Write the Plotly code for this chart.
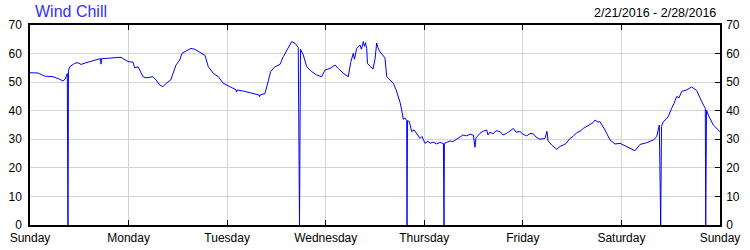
import plotly.graph_objects as go

# Hours since Sunday 2/21/2016 00:00
hours = [0, 1.95, 3.58, 5.6, 7.23, 8.03, 8.52, 9.08, 9.25, 9.37, 9.67, 10.88, 11.69, 12.42, 13.63, 14.85,
         16.56, 17.17, 17.29, 17.41, 19.72, 22.16, 23.86, 25.08, 25.49, 26.3, 27.51, 28.24, 29.95, 30.68,
         31.58, 32.38, 33.11, 34.26, 34.82, 35.55, 36.45, 37.01, 37.98, 39.2, 40.1, 41.32, 42.6, 43.41,
         44.63, 45.85, 47.06, 48.7, 50.16, 50.28, 50.4, 51.93, 53.57, 54.78, 55.76, 55.88, 56.0, 57.22,
         57.78, 58.6, 59.65, 60.87, 61.67, 62.65, 63.72, 64.52, 65.32, 65.62, 65.86, 66.54, 67.37, 68.59,
         69.8, 71.02, 71.83, 73.04, 74.26, 75.06, 76.28, 77.5, 78.08, 78.72, 79.0, 79.54, 80.35, 80.7,
         81.15, 81.44, 81.68, 81.98, 82.17, 82.78, 83.51, 84.0, 84.41, 84.73, 85.22, 86.43, 86.85, 87.16,
         88.46, 89.1, 89.67, 90.09, 90.5, 90.89, 91.3, 91.72, 91.79, 91.91, 92.35, 92.93, 93.5, 94.14,
         94.96, 95.44, 96.17, 96.9, 97.39, 98.12, 99.0, 99.81, 100.66, 100.8, 100.9, 101.45, 102.26,
         103.06, 103.72, 104.7, 105.43, 106.33, 107.13, 107.94, 108.35, 108.59, 109.57, 110.3, 111.2,
         111.5, 112.0, 112.8, 113.46, 114.43, 115.16, 116.07, 116.87, 117.68, 118.33, 119.3, 120.03,
         120.93, 121.74, 122.55, 123.2, 124.17, 125.39, 125.87, 126.12, 127.02, 128.24, 129.04, 129.85,
         130.5, 131.48, 132.21, 133.11, 133.91, 134.72, 135.62, 136.35, 137.08, 137.57, 138.3, 138.78,
         140.0, 141.22, 142.43, 143.65, 144.87, 146.09, 147.3, 148.52, 150.15, 151.76, 152.59, 153.22,
         153.56, 153.76, 154.2, 154.85, 155.41, 156.24, 156.8, 157.45, 158.02, 158.67, 159.89, 161.1,
         162.32, 163.54, 164.42, 164.52, 164.71, 165.15, 166.37, 167.59, 168]

wind_chill = [53.3, 53.2, 52.1, 51.9, 51.0, 50.4, 51.0, 53.0, 0, 54.0, 55.4, 56.6, 56.8, 56.2, 56.8, 57.4,
              58.0, 58.2, 56.3, 58.2, 58.5, 58.7, 57.2, 57.0, 55.0, 55.4, 51.9, 51.5, 51.9, 50.8,
              49.0, 48.4, 49.5, 50.8, 53.0, 56.0, 57.75, 60.1, 60.9, 61.8, 61.5, 60.4, 59.4, 55.4,
              53.1, 51.9, 49.6, 48.4, 47.3, 46.5, 47.25, 46.9, 46.3, 45.7, 45.5, 44.9, 45.5, 46.0,
              49.6, 53.7, 55.4, 56.2, 58.9, 61.6, 64.2, 63.6, 62.1, 0, 61.5, 59.5, 55.4, 53.7,
              52.5, 51.9, 54.25, 54.8, 56.0, 54.8, 53.1, 51.9, 56.9, 60.1, 58.0, 61.8, 63.0, 61.5,
              64.2, 62.5, 63.8, 61.8, 56.5, 55.6, 54.6, 58.0, 63.7, 62.0, 60.6, 58.5, 51.9, 51.5,
              49.6, 47.5, 44.9, 43.0, 40.25, 37.0, 37.5, 36.5, 0, 36.5, 36.2, 32.7, 33.3, 32.1,
              30.3, 31.0, 28.6, 29.3, 28.6, 29.0, 28.4, 28.9, 28.5, 0, 28.6, 28.9, 29.4,
              29.25, 29.8, 30.7, 31.5, 31.2, 31.8, 31.5, 27.2, 30.5, 32.1, 32.8, 33.25,
              31.5, 32.5, 31.9, 33.0, 32.7, 31.5, 32.1, 33.0, 33.8, 32.5, 32.7, 31.8,
              31.2, 32.0, 31.9, 30.8, 30.0, 30.3, 32.8, 29.5, 28.0, 26.5, 27.5, 28.0,
              28.5, 30.3, 31.0, 32.3, 32.8, 33.8, 34.5, 35.35, 35.8, 36.75, 36.0, 36.2,
              33.25, 29.75, 28.35, 28.6, 27.65, 26.8, 26.0, 28.2, 28.8, 29.75, 30.9, 35.0,
              0, 34.5, 36.2, 37.0, 38.0, 40.9, 42.5, 45.0, 44.5, 46.75, 47.3, 48.3,
              47.1, 43.2, 40.8, 0, 40.2, 38.5, 35.0, 33.25, 32.6]

day_ticks = [0, 24, 48, 72, 96, 120, 144, 168]
day_labels = ["Sunday", "Monday", "Tuesday", "Wednesday", "Thursday", "Friday", "Saturday", "Sunday"]
y_ticks = [0, 10, 20, 30, 40, 50, 60, 70]

title_text = "Wind Chill"
date_range = "2/21/2016 - 2/28/2016"

font = dict(family="Liberation Sans, Arial, sans-serif", size=12, color="#000000")

fig = go.Figure()
fig.add_trace(go.Scatter(x=hours, y=wind_chill, mode="lines",
                         line=dict(color="#0000ff", width=1), showlegend=False, hoverinfo="skip"))
fig.add_trace(go.Scatter(x=[hours[0]], y=[wind_chill[0]], yaxis="y2", mode="markers",
                         marker=dict(opacity=0), showlegend=False, hoverinfo="skip"))

fig.update_layout(
    width=750, height=250,
    margin=dict(l=30, r=30, t=25, b=25, autoexpand=False),
    paper_bgcolor="white", plot_bgcolor="white",
    font=font,
    xaxis=dict(range=[0, 168], tickvals=day_ticks, ticktext=day_labels,
               showgrid=True, gridcolor="#d3d3d3", gridwidth=1,
               showline=True, linecolor="black", linewidth=1.5, mirror="ticks",
               ticks="inside", ticklen=5, tickcolor="black", zeroline=False,
               tickfont=font, automargin=False, ticklabelstandoff=1),
    yaxis=dict(range=[0, 70], tickvals=y_ticks,
               showgrid=True, gridcolor="#d3d3d3", gridwidth=1,
               showline=True, linecolor="black", linewidth=1.5,
               ticks="", zeroline=False, tickfont=font, ticklabelstandoff=4,
               automargin=False),
    yaxis2=dict(range=[0, 70], tickvals=y_ticks, overlaying="y", side="right",
                showgrid=False, showline=True, linecolor="black", linewidth=1.5,
                ticks="inside", ticklen=5, tickcolor="black", zeroline=False,
                tickfont=font, ticklabelstandoff=2, automargin=False),
    annotations=[
        dict(text=title_text, x=0, xref="paper", xanchor="left", y=1, yref="paper",
             yanchor="bottom", yshift=3, xshift=3, showarrow=False,
             font=dict(family="Liberation Sans, Arial, sans-serif", size=16, color="#3030ff")),
        dict(text=date_range, x=1, xref="paper", xanchor="right", y=1, yref="paper",
             yanchor="bottom", yshift=3, xshift=-2, showarrow=False,
             font=dict(family="Liberation Sans, Arial, sans-serif", size=12.5, color="#000000")),
    ],
)

fig.write_html("out.html")
